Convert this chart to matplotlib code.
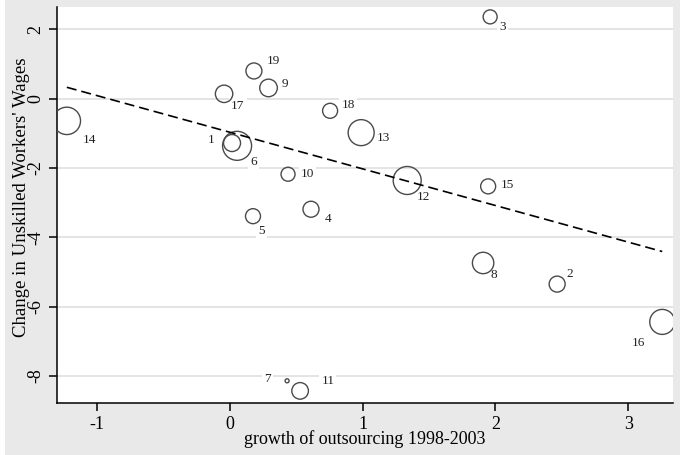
import matplotlib.pyplot as plt
from matplotlib.patches import Rectangle

plt.rcParams['font.family'] = ['Liberation Serif', 'DejaVu Serif']
plt.rcParams['axes.unicode_minus'] = False

# industries: id, growth of outsourcing, change in wages, weight
ids = [1, 2, 3, 4, 5, 6, 7, 8, 9, 10, 11, 12, 13, 14, 15, 16, 17, 18, 19]
outsourcing = [0.015, 2.465, 1.96, 0.61, 0.173, 0.053, 0.43, 1.907, 0.29, 0.437,
               0.528, 1.335, 0.988, -1.23, 1.945, 3.257, -0.045, 0.754, 0.18]
wage_change = [-1.28, -5.35, 2.36, -3.19, -3.39, -1.36, -8.14, -4.74, 0.31, -2.18,
               -8.43, -2.36, -0.98, -0.64, -2.53, -6.44, 0.14, -0.35, 0.80]
weights = [8.5, 8, 7, 8, 7.5, 14.5, 2, 10.7, 8.8, 7,
           8.3, 14, 13, 13.7, 7.5, 12.5, 8.7, 7.5, 8]

# fitted line
fit_intercept = -0.97
fit_slope = -1.056

# label offsets (points) relative to each marker, clock-position style
label_offsets = {1: (-15, 2), 2: (9, 7), 3: (9, -7), 4: (12, -7), 5: (6, -11),
                 6: (12, -12), 7: (-14, 1), 8: (8, -9), 9: (12, 3), 10: (14, 0),
                 11: (20, 7), 12: (12, -12), 13: (16, -4), 14: (16, -14),
                 15: (14, 1), 16: (-17, -15), 17: (10, -9), 18: (13, 4), 19: (14, 7)}

fig = plt.figure(figsize=(6.8, 4.55), dpi=100, facecolor='#e9e9e9')
fig.patches.append(Rectangle((0, 0), 5 / 680, 1, transform=fig.transFigure,
                             facecolor='white', edgecolor='none', zorder=0))
ax = fig.add_axes([57 / 680, 52 / 455, 616 / 680, 396 / 455])
ax.set_facecolor('white')

ax.set_xlim(-1.304, 3.338)
ax.set_ylim(-8.78, 2.645)

ax.set_yticks([2, 0, -2, -4, -6, -8])
ax.set_xticks([-1, 0, 1, 2, 3])
ax.grid(axis='y', color='#dcdcdc', linewidth=1.1)
ax.set_axisbelow(True)

for s in ['top', 'right']:
    ax.spines[s].set_visible(False)
for s in ['left', 'bottom']:
    ax.spines[s].set_linewidth(1.1)
    ax.spines[s].set_color('black')

ax.tick_params(axis='both', direction='out', length=6, width=1.1, labelsize=13)
ax.tick_params(axis='y', pad=3)
for lab in ax.get_yticklabels():
    lab.set_rotation(90)
    lab.set_va('center')

sizes = [(1.44 * r) ** 2 for r in weights]
ax.scatter(outsourcing, wage_change, s=sizes, facecolors='none',
           edgecolors='#4a4a4a', linewidths=1.0, zorder=3)

xs = [min(outsourcing), max(outsourcing)]
ys = [fit_intercept + fit_slope * x for x in xs]
ax.plot(xs, ys, color='black', linestyle=(0, (6, 3)), linewidth=1.2, zorder=4)

for i, x, y in zip(ids, outsourcing, wage_change):
    dx, dy = label_offsets[i]
    ax.annotate(str(i), (x, y), xytext=(dx, dy), textcoords='offset points',
                ha='center', va='center', fontsize=9.5, color='#222222', zorder=2,
                bbox=dict(facecolor='white', edgecolor='none', pad=1.5))

ax.set_xlabel('growth of outsourcing 1998-2003', fontsize=13, labelpad=-2)
ax.set_ylabel("Change in Unskilled Workers' Wages", fontsize=13.5)
ax.yaxis.set_label_coords(-0.044, 0.52)

fig.savefig('out.png', dpi=100, facecolor=fig.get_facecolor())
